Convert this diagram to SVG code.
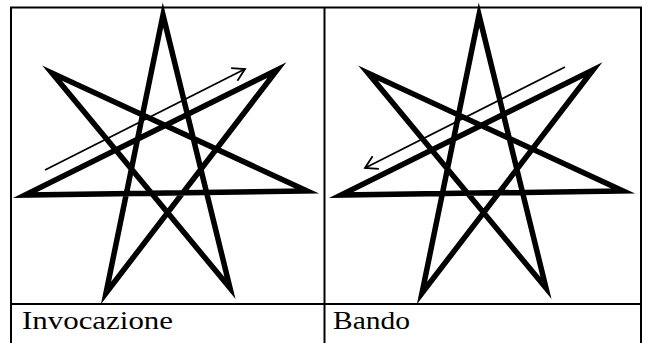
<svg xmlns="http://www.w3.org/2000/svg" xmlns:xlink="http://www.w3.org/1999/xlink" width="653" height="343" viewBox="0 0 653 343">
  <style>
    .border { fill: none; stroke: #000; stroke-width: 2; }
    .star { fill: none; stroke: #000; stroke-width: 5.5; stroke-linejoin: miter; stroke-miterlimit: 10; }
    .arrow { fill: none; stroke: #000; stroke-width: 1.8; }
    .label { font-family: "Liberation Serif", "DejaVu Serif", serif; font-size: 26px; fill: #000; }
  </style>
  <defs>
    <marker id="head" markerUnits="userSpaceOnUse" markerWidth="20" markerHeight="20" viewBox="-14 -10 16 20" refX="0" refY="0" orient="auto">
      <path d="M-12,-7 L0,0 L-12,7" fill="none" stroke="#000" stroke-width="1.8"/>
    </marker>
    <path id="heptagram" d="M163,15 L230,288 L52,73 L307,191 L25,195 L277,70 L106,293 Z"/>
  </defs>
  <rect width="653" height="343" fill="#fff"/>
  <g id="table">
    <path class="border" d="M11,345 V7.5 H641 V345 M324.5,7.5 V345 M11,304 H641"/>
  </g>
  <g id="invocazione">
    <use xlink:href="#heptagram" class="star"/>
    <line class="arrow" x1="45" y1="170" x2="245" y2="69" marker-end="url(#head)"/>
    <text class="label" x="22" y="329" textLength="151" lengthAdjust="spacingAndGlyphs">Invocazione</text>
  </g>
  <g id="bando">
    <use xlink:href="#heptagram" class="star" transform="translate(316,0)"/>
    <line class="arrow" x1="565" y1="67" x2="365" y2="168" marker-end="url(#head)"/>
    <text class="label" x="333" y="329" textLength="77" lengthAdjust="spacingAndGlyphs">Bando</text>
  </g>
</svg>
